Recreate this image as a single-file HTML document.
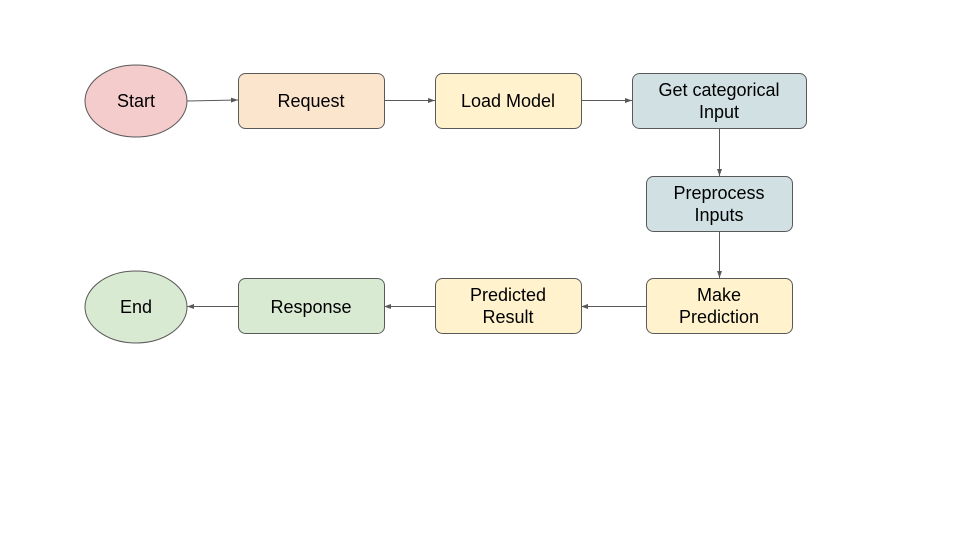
<!DOCTYPE html>
<html><head><meta charset="utf-8"><style>body{margin:0;background:#fff}</style></head><body>
<svg width="960" height="540" xmlns="http://www.w3.org/2000/svg" font-family="Liberation Sans, Arial, sans-serif" font-size="18" fill="#000">
<defs><marker id="a" markerWidth="8" markerHeight="8" refX="7" refY="4" orient="auto" markerUnits="userSpaceOnUse"><path d="M0,1.5 L7,4 L0,6.5z" fill="#595959"/></marker></defs>
<g stroke="#595959" stroke-width="1">
<ellipse cx="136" cy="101" rx="51" ry="36" fill="#f4cccc"/>
<rect x="238.5" y="73.5" width="146" height="55" rx="7" fill="#fce5cd"/>
<rect x="435.5" y="73.5" width="146" height="55" rx="7" fill="#fff2cc"/>
<rect x="632.5" y="73.5" width="174" height="55" rx="7" fill="#d0e0e3"/>
<rect x="646.5" y="176.5" width="146" height="55" rx="7" fill="#d0e0e3"/>
<rect x="646.5" y="278.5" width="146" height="55" rx="7" fill="#fff2cc"/>
<rect x="435.5" y="278.5" width="146" height="55" rx="7" fill="#fff2cc"/>
<rect x="238.5" y="278.5" width="146" height="55" rx="7" fill="#d9ead3"/>
<ellipse cx="136" cy="307" rx="51" ry="36" fill="#d9ead3"/>
<g fill="none" marker-end="url(#a)">
<line x1="187" y1="101" x2="238" y2="100"/>
<line x1="384" y1="100.5" x2="435" y2="100.5"/>
<line x1="581" y1="100.5" x2="632" y2="100.5"/>
<line x1="719.5" y1="128" x2="719.5" y2="176"/>
<line x1="719.5" y1="231" x2="719.5" y2="278"/>
<line x1="646" y1="306.5" x2="581" y2="306.5"/>
<line x1="435" y1="306.5" x2="384" y2="306.5"/>
<line x1="238" y1="306.5" x2="187" y2="306.5"/>
</g></g>
<g text-anchor="middle">
<text x="136" y="107">Start</text>
<text x="311" y="107">Request</text>
<text x="508" y="107">Load Model</text>
<text x="719" y="96">Get categorical</text><text x="719" y="118">Input</text>
<text x="719" y="199">Preprocess</text><text x="719" y="221">Inputs</text>
<text x="719" y="301">Make</text><text x="719" y="323">Prediction</text>
<text x="508" y="301">Predicted</text><text x="508" y="323">Result</text>
<text x="311" y="313">Response</text>
<text x="136" y="313">End</text>
</g>
</svg>
</body></html>
